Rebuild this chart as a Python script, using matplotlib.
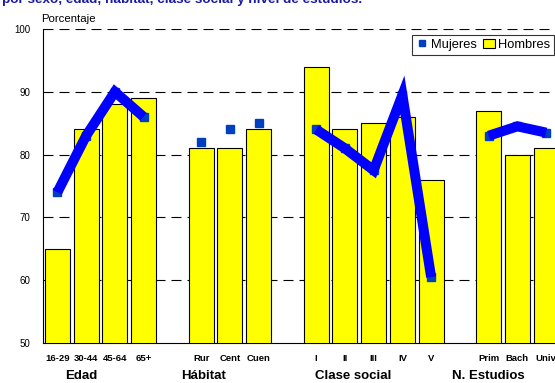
import numpy as np
import matplotlib
matplotlib.use("Agg")
import matplotlib.pyplot as plt
from matplotlib.lines import Line2D
from matplotlib.patches import Patch

plt.rcParams['font.family'] = ['Liberation Sans', 'DejaVu Sans']

# data
groups = ["Edad", "Hábitat", "Clase social", "N. Estudios"]
cats = [["16-29", "30-44", "45-64", "65+"],
        ["Rur", "Cent", "Cuen"],
        ["I", "II", "III", "IV", "V"],
        ["Prim", "Bach", "Univ"]]
hombres = [[65, 84, 88, 89],
           [81, 81, 84],
           [94, 84, 85, 86, 76],
           [87, 80, 81]]
mujeres = [[74, 83, 90, 86],
           [82, 84, 85],
           [84, 81, 77.5, 89.5, 60.5],
           [83, 84.5, 83.5]]
line_groups = [True, False, True, True]
# where the group titles sit, in slot units
group_label_x = [0.83, 5.1, 10.3, 15.0]

fig = plt.figure(figsize=(5.55, 3.83), dpi=100)
W, H = 555, 383
ax = fig.add_axes([43 / W, 40 / H, (560.5 - 43) / W, 314 / H])

pos = 0
xs_all, labels_all = [], []
for gi, g in enumerate(groups):
    xs = np.arange(pos, pos + len(cats[gi]))
    ax.bar(xs, hombres[gi], width=0.87, color='#FFFF00', edgecolor='black',
           linewidth=0.8, zorder=3)
    if line_groups[gi]:
        ax.plot(xs, mujeres[gi], color='#0000FF', linewidth=7.2,
                solid_joinstyle='miter', solid_capstyle='butt', zorder=5)
    ax.plot(xs, mujeres[gi], linestyle='none', marker='s', markersize=5.5,
            color='#0040C0', zorder=4)
    xs_all += list(xs)
    labels_all += cats[gi]
    pos += len(cats[gi]) + 1

ax.set_xlim(-0.5, 17.5)
ax.set_ylim(50, 100)
ax.set_yticks([50, 60, 70, 80, 90, 100])
ax.tick_params(axis='y', length=0, labelsize=7, pad=9)
ax.set_xticks(xs_all)
ax.set_xticklabels(labels_all, fontsize=6.8, fontweight='bold')
ax.tick_params(axis='x', length=0, pad=8)

for y in [60, 70, 80, 90, 100]:
    ax.axhline(y, color='black', linewidth=0.8, dashes=(9, 5.4), zorder=1)

for s in ['top', 'right']:
    ax.spines[s].set_visible(False)
ax.spines['left'].set_linewidth(0.8)
ax.spines['bottom'].set_linewidth(0.8)

for x, g in zip(group_label_x, groups):
    ax.text(x, -0.105, g, transform=ax.get_xaxis_transform(), ha='center',
            va='center', fontsize=9.5, fontweight='bold')

fig.text(41 / W, 1 - 18.5 / H, "Porcentaje", fontsize=8.2, ha='left',
         va='center')
fig.text(2 / W, 1 - 3 / H,
         "por sexo, edad, hábitat, clase social y nivel de estudios.",
         fontsize=9.7, fontweight='bold', color='#1A1AA0', ha='left',
         va='baseline')

handles = [Line2D([], [], linestyle='none', marker='s', markersize=5,
                  color='#0040C0'),
           Patch(facecolor='#FFFF00', edgecolor='black', linewidth=0.8)]
leg = ax.legend(handles, ["Mujeres", "Hombres"], loc='upper left',
                bbox_to_anchor=(412 / W, 1 - 35 / H),
                bbox_transform=fig.transFigure, ncol=2, fontsize=9.3,
                frameon=True, fancybox=False, borderpad=0.3,
                handlelength=0.9, handletextpad=0.25, columnspacing=0.5,
                borderaxespad=0)
leg.get_frame().set_edgecolor('black')
leg.get_frame().set_linewidth(0.8)
leg.set_zorder(10)

fig.savefig("out.png", dpi=100)
